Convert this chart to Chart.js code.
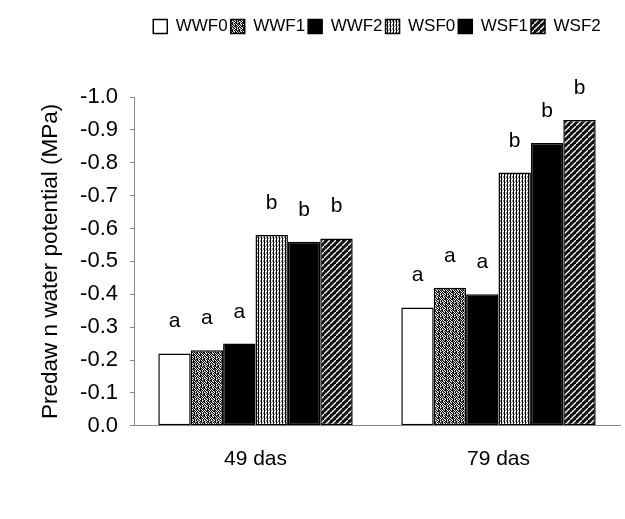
<!DOCTYPE html>
<html>
<head>
<meta charset="utf-8">
<script src="https://cdn.jsdelivr.net/npm/chart.js@4.4.1/dist/chart.umd.min.js"></script>
<style>
  body { margin: 0; background: #fff; }
  #wrap { width: 625px; height: 519px; }
</style>
</head>
<body>
<div id="wrap"><canvas id="chart"></canvas></div>
<script>
// data (MPa)
const categories = ['49 das', '79 das'];
const seriesNames = ['WWF0', 'WWF1', 'WWF2', 'WSF0', 'WSF1', 'WSF2'];
const wwf0 = [-0.22, -0.36];
const wwf1 = [-0.23, -0.42];
const wwf2 = [-0.25, -0.40];
const wsf0 = [-0.58, -0.77];
const wsf1 = [-0.56, -0.86];
const wsf2 = [-0.57, -0.93];
const seriesLetters = ['a', 'a', 'a', 'b', 'b', 'b'];
const yTicks = ['0.0', '-0.1', '-0.2', '-0.3', '-0.4', '-0.5', '-0.6', '-0.7', '-0.8', '-0.9', '-1.0'];

Chart.defaults.font.family = "'Liberation Sans', Arial, sans-serif";
Chart.defaults.color = '#000';

// fill patterns, roughly like the scanned print
function tilePattern(rows) {
  const c = document.createElement('canvas');
  c.width = rows[0].length;
  c.height = rows.length;
  const g = c.getContext('2d');
  rows.forEach((r, y) => {
    for (let x = 0; x < r.length; x++) {
      g.fillStyle = r[x] === '#' ? '#000' : (r[x] === '+' ? '#888' : '#fff');
      g.fillRect(x, y, 1, 1);
    }
  });
  return g.createPattern(c, 'repeat');
}
function hatchPattern() {
  const c = document.createElement('canvas');
  c.width = c.height = 6;
  const g = c.getContext('2d');
  g.fillStyle = '#111';
  g.fillRect(0, 0, 6, 6);
  g.strokeStyle = '#fff';
  g.lineWidth = 1.3;
  g.beginPath();
  g.moveTo(-1, 7); g.lineTo(7, -1);
  g.stroke();
  return g.createPattern(c, 'repeat');
}
const ctx = document.getElementById('chart').getContext('2d');
const stipple = tilePattern([
  '#.+#.#+',
  '+#+.##.',
  '##.#+#+',
  '+#+.#.#',
  '#.#+##.',
  '.#.##+#',
  '#+#.+#.'
]);
const stripes = tilePattern(['#.+', '#.+', '#+.', '#..']);
const fills = ['#fff', stipple, '#000', stripes, '#000', hatchPattern()];
const values = [wwf0, wwf1, wwf2, wsf0, wsf1, wsf2];

const letterPlugin = {
  id: 'letters',
  afterDatasetsDraw(chart) {
    const c = chart.ctx;
    c.save();
    c.font = "21px 'Liberation Sans', Arial, sans-serif";
    c.fillStyle = '#000';
    c.textAlign = 'center';
    c.textBaseline = 'alphabetic';
    chart.data.datasets.forEach((ds, i) => {
      chart.getDatasetMeta(i).data.forEach(bar => {
        c.fillText(seriesLetters[i], bar.x, bar.y - 26);
      });
    });
    c.restore();
  }
};

// fixed legend band, centred over the plot area
const legendPlugin = {
  id: 'legendShift',
  beforeInit(chart) {
    const fit = chart.legend.fit;
    chart.legend.fit = function () {
      fit.bind(chart.legend)();
      this.height = 82;
    };
  },
  afterLayout(chart) {
    const lg = chart.legend;
    const shift = (chart.chartArea.left + chart.chartArea.right) / 2 - (lg.left + lg.right) / 2;
    lg.left += shift;
    lg.right += shift;
  }
};

new Chart(ctx, {
  type: 'bar',
  data: {
    labels: categories,
    datasets: seriesNames.map((name, i) => ({
      label: name,
      data: values[i],
      backgroundColor: fills[i],
      borderColor: '#000',
      borderWidth: 1.5,
      borderSkipped: false,
      categoryPercentage: 0.8,
      barPercentage: 1.0
    }))
  },
  options: {
    responsive: true,
    maintainAspectRatio: false,
    animation: false,
    layout: { padding: { top: 15, right: 5, bottom: 34, left: 0 } },
    plugins: {
      tooltip: { enabled: false },
      legend: {
        position: 'top',
        labels: {
          boxWidth: 14,
          boxHeight: 14,
          padding: 3,
          font: { size: 17 }
        }
      }
    },
    scales: {
      x: {
        grid: { display: false },
        border: { color: '#888', dash: [2, 2] },
        ticks: { font: { size: 21 }, padding: 13 }
      },
      y: {
        reverse: true,
        min: -1.0,
        max: 0,
        afterFit(scale) { scale.width = 134; },
        grid: { drawOnChartArea: false, tickLength: 4, color: '#888' },
        border: { color: '#888', dash: [2, 2] },
        ticks: {
          stepSize: 0.1,
          padding: 12,
          font: { size: 22 },
          callback: v => yTicks[Math.round(-v * 10)]
        },
        title: {
          display: true,
          text: 'Predaw n water potential (MPa)',
          font: { size: 22.5 },
          padding: { top: 37, bottom: 0 }
        }
      }
    }
  },
  plugins: [letterPlugin, legendPlugin]
});
</script>
</body>
</html>
